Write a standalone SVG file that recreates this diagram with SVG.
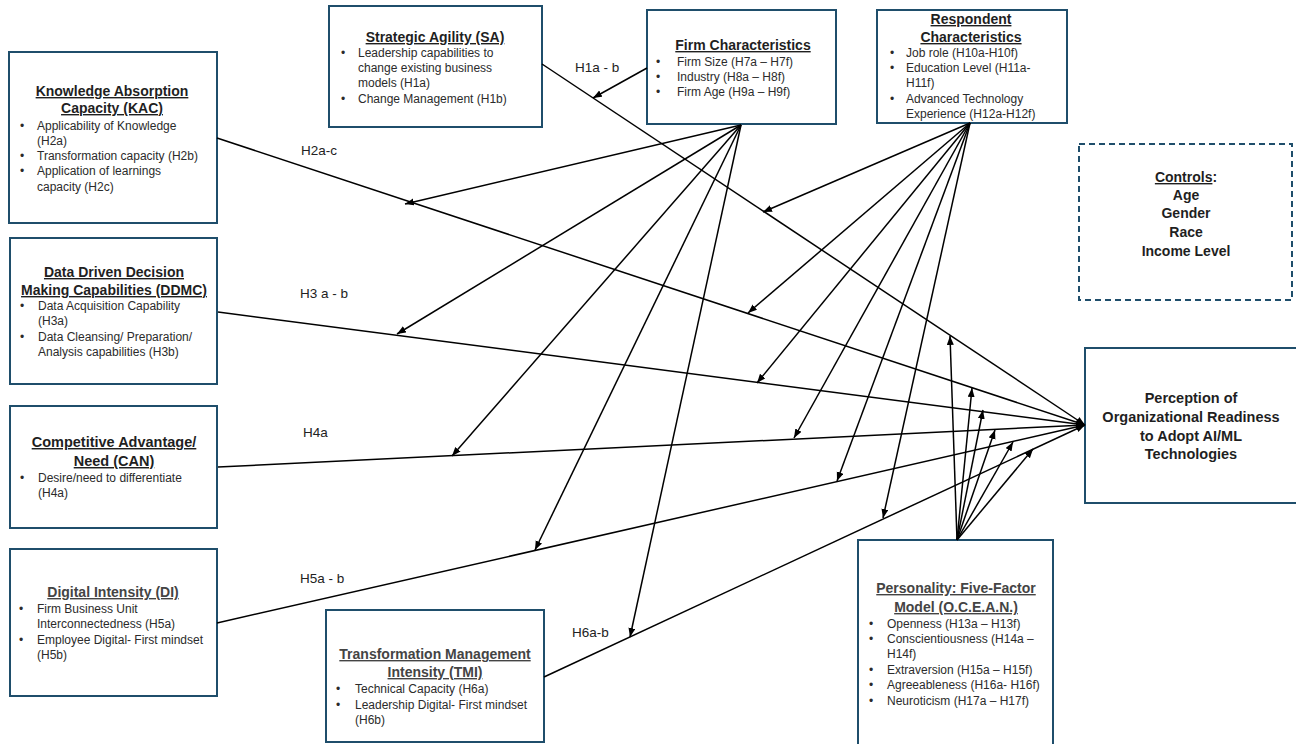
<svg xmlns="http://www.w3.org/2000/svg" width="1296" height="744" viewBox="0 0 1296 744">
<style>
.box{fill:#fff;stroke:#1f4e6b;stroke-width:2}
.dash{fill:#fff;stroke:#1f4e6b;stroke-width:2;stroke-dasharray:6 4}
.t{font-family:"Liberation Sans",Arial,sans-serif;font-size:14px;font-weight:bold;fill:#1f1f1f;text-anchor:middle}
.tg{fill:#444}
.u{text-decoration:underline}
.b{font-family:"Liberation Sans",Arial,sans-serif;font-size:12px;fill:#2b2b2b}
.lbl{font-family:"Liberation Sans",Arial,sans-serif;font-size:13.5px;fill:#222}
.c line{stroke:#000;stroke-width:1.5;marker-end:url(#ah)}
</style>
<defs>
<marker id="ah" markerUnits="userSpaceOnUse" markerWidth="9" markerHeight="8" refX="9" refY="3.5" orient="auto">
<path d="M0,0 L9,3.5 L0,7 z" fill="#000"/>
</marker>
</defs>
<rect width="1296" height="744" fill="#fff"/>

<g id="node-sa">
<rect class="box" x="329" y="6" width="213" height="121"/>
<text class="t u" x="435" y="42">Strategic Agility (SA)</text>
<text class="b"><tspan x="341" y="57">•</tspan><tspan x="358" y="57">Leadership capabilities to</tspan><tspan x="358" y="72">change existing business</tspan><tspan x="358" y="87">models (H1a)</tspan><tspan x="341" y="103">•</tspan><tspan x="358" y="103">Change Management (H1b)</tspan></text>
</g>

<g id="node-firm">
<rect class="box" x="647" y="10" width="189" height="114"/>
<text class="t u" x="743" y="50">Firm Characteristics</text>
<text class="b"><tspan x="656" y="66">•</tspan><tspan x="677" y="66">Firm Size (H7a – H7f)</tspan><tspan x="656" y="81">•</tspan><tspan x="677" y="81">Industry (H8a – H8f)</tspan><tspan x="656" y="96">•</tspan><tspan x="677" y="96">Firm Age (H9a – H9f)</tspan></text>
</g>

<g id="node-resp">
<rect class="box" x="877" y="10" width="190" height="113"/>
<text class="t u" x="971" y="24">Respondent</text>
<text class="t u" x="971" y="42">Characteristics</text>
<text class="b"><tspan x="890" y="57">•</tspan><tspan x="906" y="57">Job role (H10a-H10f)</tspan><tspan x="890" y="72">•</tspan><tspan x="906" y="72">Education Level (H11a-</tspan><tspan x="906" y="87">H11f)</tspan><tspan x="890" y="103">•</tspan><tspan x="906" y="103">Advanced Technology</tspan><tspan x="906" y="118">Experience (H12a-H12f)</tspan></text>
</g>

<g id="node-controls">
<rect class="dash" x="1079" y="144" width="213" height="156"/>
<text class="t" x="1186" y="182"><tspan class="u">Controls</tspan>:</text>
<text class="t" x="1186" y="200">Age</text>
<text class="t" x="1186" y="218">Gender</text>
<text class="t" x="1186" y="237">Race</text>
<text class="t" x="1186" y="256">Income Level</text>
</g>

<g id="node-kac">
<rect class="box" x="9" y="52" width="208" height="171"/>
<text class="t u" x="112" y="96">Knowledge Absorption</text>
<text class="t u" x="112" y="113">Capacity (KAC)</text>
<text class="b"><tspan x="20" y="130">•</tspan><tspan x="37" y="130">Applicability of Knowledge</tspan><tspan x="37" y="145">(H2a)</tspan><tspan x="20" y="160">•</tspan><tspan x="37" y="160">Transformation capacity (H2b)</tspan><tspan x="20" y="175">•</tspan><tspan x="37" y="175">Application of learnings</tspan><tspan x="37" y="191">capacity (H2c)</tspan></text>
</g>

<g id="node-ddmc">
<rect class="box" x="10" y="238" width="207" height="146"/>
<text class="t u" x="114" y="277">Data Driven Decision</text>
<text class="t u" x="114" y="295">Making Capabilities (DDMC)</text>
<text class="b"><tspan x="20" y="310">•</tspan><tspan x="38" y="310">Data Acquisition Capability</tspan><tspan x="38" y="325">(H3a)</tspan><tspan x="20" y="341">•</tspan><tspan x="38" y="341">Data Cleansing/ Preparation/</tspan><tspan x="38" y="356">Analysis capabilities (H3b)</tspan></text>
</g>

<g id="node-can">
<rect class="box" x="10" y="406" width="207" height="122"/>
<text class="t u" x="114" y="447" style="font-size:14.5px">Competitive Advantage/</text>
<text class="t u" x="114" y="466" style="font-size:14.5px">Need (CAN)</text>
<text class="b"><tspan x="20" y="482">•</tspan><tspan x="38" y="482">Desire/need to differentiate</tspan><tspan x="38" y="497">(H4a)</tspan></text>
</g>

<g id="node-di">
<rect class="box" x="10" y="549" width="207" height="147"/>
<text class="t tg u" x="113" y="597">Digital Intensity (DI)</text>
<text class="b"><tspan x="19" y="613">•</tspan><tspan x="37" y="613">Firm Business Unit</tspan><tspan x="37" y="628">Interconnectedness (H5a)</tspan><tspan x="19" y="644">•</tspan><tspan x="37" y="644">Employee Digital- First mindset</tspan><tspan x="37" y="659">(H5b)</tspan></text>
</g>

<g id="node-tmi">
<rect class="box" x="326" y="610" width="218" height="132"/>
<text class="t tg u" x="435" y="659">Transformation Management</text>
<text class="t tg u" x="435" y="677">Intensity (TMI)</text>
<text class="b"><tspan x="336" y="693">•</tspan><tspan x="355" y="693">Technical Capacity (H6a)</tspan><tspan x="336" y="709">•</tspan><tspan x="355" y="709">Leadership Digital- First mindset</tspan><tspan x="355" y="724">(H6b)</tspan></text>
</g>

<g id="node-ocean">
<rect class="box" x="858" y="540" width="195" height="210"/>
<text class="t tg u" x="956" y="593">Personality: Five-Factor</text>
<text class="t tg u" x="956" y="612">Model (O.C.E.A.N.)</text>
<text class="b"><tspan x="869" y="628">•</tspan><tspan x="887" y="628">Openness (H13a – H13f)</tspan><tspan x="869" y="643">•</tspan><tspan x="887" y="643">Conscientiousness (H14a –</tspan><tspan x="887" y="658">H14f)</tspan><tspan x="869" y="674">•</tspan><tspan x="887" y="674">Extraversion (H15a – H15f)</tspan><tspan x="869" y="689">•</tspan><tspan x="887" y="689">Agreeableness (H16a- H16f)</tspan><tspan x="869" y="705">•</tspan><tspan x="887" y="705">Neuroticism (H17a – H17f)</tspan></text>
</g>

<g id="node-perception">
<rect class="box" x="1085" y="348" width="215" height="155"/>
<text class="t" x="1191" y="403" style="font-size:14.5px">Perception of</text>
<text class="t" x="1191" y="422" style="font-size:14.5px">Organizational Readiness</text>
<text class="t" x="1191" y="441" style="font-size:14.5px">to Adopt AI/ML</text>
<text class="t" x="1191" y="459" style="font-size:14.5px">Technologies</text>
</g>

<g id="connectors" class="c">
<line x1="542" y1="64" x2="1085" y2="425"/>
<line x1="217" y1="138" x2="1085" y2="425"/>
<line x1="218" y1="312" x2="1085" y2="425"/>
<line x1="218" y1="467" x2="1085" y2="425"/>
<line x1="217" y1="623" x2="1085" y2="425"/>
<line x1="544" y1="677" x2="1085" y2="425"/>

<line x1="647" y1="68" x2="593" y2="98"/>
<line x1="741" y1="125" x2="405" y2="204"/>
<line x1="741" y1="125" x2="397" y2="334"/>
<line x1="741" y1="125" x2="452" y2="456"/>
<line x1="741" y1="125" x2="535" y2="550"/>
<line x1="741" y1="125" x2="630" y2="637"/>

<line x1="970" y1="123" x2="763" y2="212"/>
<line x1="970" y1="123" x2="748" y2="313"/>
<line x1="970" y1="123" x2="757" y2="383"/>
<line x1="970" y1="123" x2="794" y2="438"/>
<line x1="970" y1="123" x2="837" y2="481"/>
<line x1="970" y1="123" x2="883" y2="518"/>

<line x1="957" y1="540" x2="950" y2="336"/>
<line x1="957" y1="540" x2="972" y2="388"/>
<line x1="957" y1="540" x2="983" y2="410"/>
<line x1="957" y1="540" x2="995" y2="430"/>
<line x1="957" y1="540" x2="1013" y2="442"/>
<line x1="957" y1="540" x2="1033" y2="449"/>
</g>

<g id="labels">
<text class="lbl" x="575" y="72">H1a - b</text>
<text class="lbl" x="301" y="155">H2a-c</text>
<text class="lbl" x="300" y="298">H3 a - b</text>
<text class="lbl" x="303" y="437">H4a</text>
<text class="lbl" x="300" y="583">H5a - b</text>
<text class="lbl" x="572" y="637">H6a-b</text>
</g>
</svg>
